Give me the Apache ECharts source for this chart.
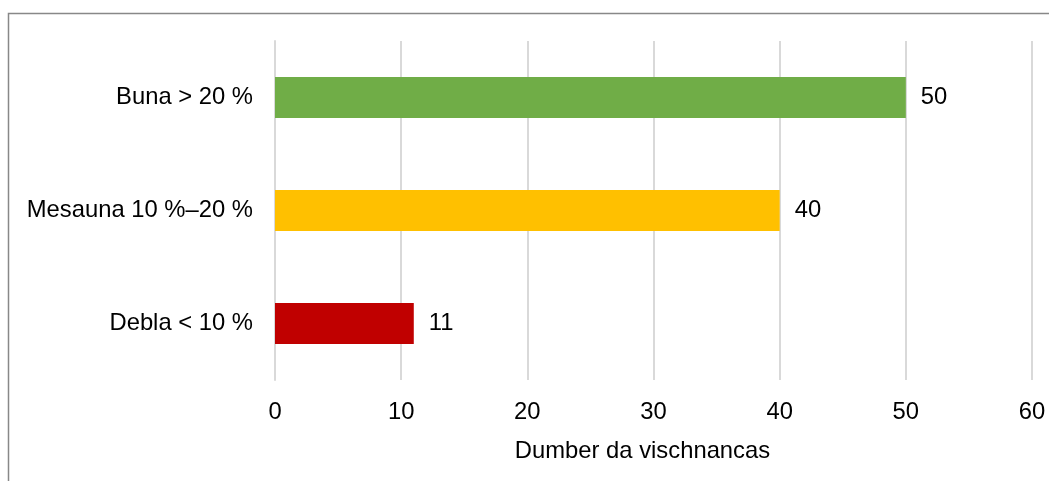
<!DOCTYPE html>
<html>
<head>
<meta charset="utf-8">
<script src="https://cdn.jsdelivr.net/npm/echarts@6/dist/echarts.min.js"></script>
<style>
html,body{margin:0;padding:0;background:#fff;}
#main{width:1049px;height:481px;}
</style>
</head>
<body>
<div id="main"></div>
<script>
var categories = ['Buna > 20 %', 'Mesauna 10 %–20 %', 'Debla < 10 %'];
var values = [50, 40, 11];
var barColors = ['#70AD47', '#FFC000', '#C00000'];
var xTicks = [0, 60, 10]; // min, max, interval
var xName = 'Dumber da vischnancas';

var mychart = echarts.init(document.getElementById('main'));
var font = 'Liberation Sans, Arial, sans-serif';
var fs = 23.8;

var option = {
	backgroundColor: '#fff',
	animation: false,
	graphic: [{
		type: 'rect',
		shape: {x: 8.5, y: 13.5, width: 1200, height: 600},
		style: {fill: 'none', stroke: '#888', lineWidth: 1.5},
		z: -1
	}],
	grid: {left: 275, right: 17, top: 41, bottom: 101},
	xAxis: {
		type: 'value',
		min: xTicks[0],
		max: xTicks[1],
		interval: xTicks[2],
		name: xName,
		nameLocation: 'middle',
		nameGap: 59,
		nameTextStyle: {color: '#000', fontSize: fs, fontFamily: font, padding: [0, 22, 0, 0]},
		axisLine: {show: false},
		axisTick: {show: false},
		axisLabel: {color: '#000', fontSize: fs, fontFamily: font, margin: 20},
		splitLine: {show: true, lineStyle: {color: '#d9d9d9', width: 2}}
	},
	yAxis: {
		type: 'category',
		inverse: true,
		data: categories,
		axisLine: {show: true, lineStyle: {color: '#d9d9d9', width: 2}},
		axisTick: {show: false},
		axisLabel: {color: '#000', fontSize: fs, fontFamily: font, margin: 22}
	},
	series: [{
		type: 'bar',
		barWidth: 41,
		data: values.map(function (v, i) {
			return {value: v, itemStyle: {color: barColors[i]}};
		}),
		label: {
			show: true,
			position: 'right',
			distance: 15,
			color: '#000',
			fontSize: fs,
			fontFamily: font
		}
	}]
};
mychart.setOption(option);
</script>
</body>
</html>
